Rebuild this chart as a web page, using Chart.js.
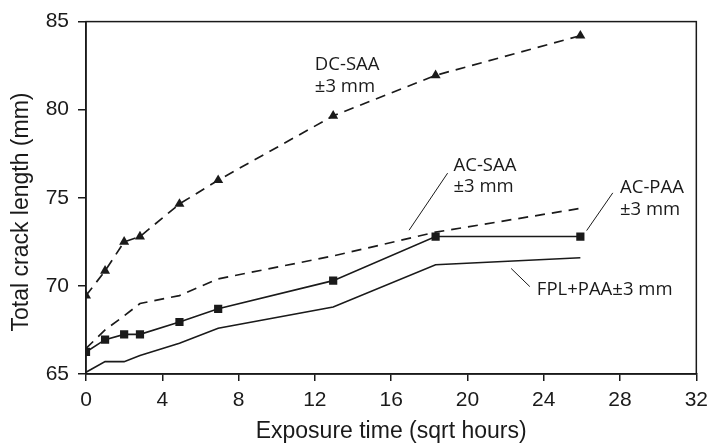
<!DOCTYPE html>
<html>
<head>
<meta charset="utf-8">
<script src="https://cdn.jsdelivr.net/npm/chart.js@4"></script>
<style>
    html, body { margin: 0; padding: 0; background: #fff; }
    #wrap { width: 715px; height: 445px; }
</style>
</head>
<body>
<div id="wrap"><canvas id="crackChart" width="715" height="445"></canvas></div>
<script>
// Exposure time (sqrt hours): 0, 1, 4, 8, 24, 48, 168, 336, 672 h
const sqrtHours = [0, 1, 2, 2.83, 4.9, 6.93, 12.96, 18.33, 25.92];
const dcSaa  = [69.45, 70.85, 72.5, 72.8, 74.65, 76.0, 79.65, 81.95, 84.2];
const acSaa  = [66.45, 67.5, 68.3, 69.0, 69.45, 70.4, 71.7, 73.05, 74.4];
const acPaa  = [66.25, 66.95, 67.25, 67.25, 67.95, 68.7, 70.3, 72.8, 72.8];
const fplPaa = [65.1, 65.7, 65.7, 66.05, 66.75, 67.6, 68.8, 71.2, 71.6];

const xTicks = [0, 4, 8, 12, 16, 20, 24, 28, 32];
const yTicks = [65, 70, 75, 80, 85];

const yTitle = 'Total crack length (mm)';

// labels with leader lines, in data units
const notes = [
    { lines: ['DC-SAA', '\u00b13 mm'], x: 12.0, y: 82.55 },
    { lines: ['AC-SAA', '\u00b13 mm'], x: 19.27, y: 76.84, lead: [18.96, 76.4, 16.94, 73.16] },
    { lines: ['AC-PAA', '\u00b13 mm'], x: 28.0, y: 75.56, lead: [27.62, 75.28, 26.25, 73.14] },
    { lines: ['FPL+PAA\u00b13 mm'], x: 23.64, y: 69.8, lead: [22.29, 70.99, 23.27, 69.96] }
];

const ink = '#1a1a1a';

function toPoints(values) {
    return sqrtHours.map((x, i) => ({ x: x, y: values[i] }));
}

const frameAndNotes = {
    id: 'frameAndNotes',
    afterDatasetsDraw(chart) {
        const { ctx, chartArea, scales } = chart;
        ctx.save();
        ctx.strokeStyle = ink;
        ctx.lineWidth = 1.5;
        ctx.strokeRect(chartArea.left, chartArea.top, chartArea.right - chartArea.left, chartArea.bottom - chartArea.top);

        // y title, sits a bit below the plot centre in the original
        ctx.fillStyle = ink;
        ctx.save();
        ctx.translate(22, 212);
        ctx.rotate(-Math.PI / 2);
        ctx.font = '23px "Liberation Sans", Arial';
        ctx.textAlign = 'center';
        ctx.textBaseline = 'middle';
        ctx.fillText(yTitle, 0, 0);
        ctx.restore();

        ctx.lineWidth = 1;
        ctx.font = '18.5px "Open Sans"';
        ctx.textAlign = 'left';
        ctx.textBaseline = 'middle';
        notes.forEach(n => {
            const px = scales.x.getPixelForValue(n.x);
            const py = scales.y.getPixelForValue(n.y);
            n.lines.forEach((t, i) => ctx.fillText(t, px, py + i * 21.5));
            if (n.lead) {
                ctx.beginPath();
                ctx.moveTo(scales.x.getPixelForValue(n.lead[0]), scales.y.getPixelForValue(n.lead[1]));
                ctx.lineTo(scales.x.getPixelForValue(n.lead[2]), scales.y.getPixelForValue(n.lead[3]));
                ctx.stroke();
            }
        });
        ctx.restore();
    }
};

const ctx = document.getElementById('crackChart').getContext('2d');

new Chart(ctx, {
    type: 'scatter',
    data: {
        datasets: [
            {
                label: 'DC-SAA',
                data: toPoints(dcSaa),
                showLine: true,
                borderColor: ink,
                backgroundColor: ink,
                borderWidth: 1.7,
                borderDash: [10, 7],
                pointStyle: 'triangle',
                pointRadius: 5.8,
                pointBorderWidth: 0
            },
            {
                label: 'AC-SAA',
                data: toPoints(acSaa),
                showLine: true,
                borderColor: ink,
                borderWidth: 1.7,
                borderDash: [10, 7],
                pointRadius: 0
            },
            {
                label: 'AC-PAA',
                data: toPoints(acPaa),
                showLine: true,
                borderColor: ink,
                backgroundColor: ink,
                borderWidth: 1.6,
                pointStyle: 'rect',
                pointRadius: 5.8,
                pointBorderWidth: 0
            },
            {
                label: 'FPL+PAA',
                data: toPoints(fplPaa),
                showLine: true,
                borderColor: ink,
                borderWidth: 1.6,
                pointRadius: 0
            }
        ]
    },
    options: {
        responsive: false,
        animation: false,
        layout: { padding: { left: 0, right: 13, top: 16, bottom: 0 } },
        plugins: {
            legend: { display: false },
            tooltip: { enabled: false }
        },
        scales: {
            x: {
                type: 'linear',
                min: 0,
                max: 32,
                afterFit: s => { s.height = 71; },
                afterBuildTicks: s => { s.ticks = xTicks.map(v => ({ value: v })); },
                grid: { drawOnChartArea: false, drawTicks: true, tickLength: 7, color: ink, lineWidth: 1.5 },
                border: { color: ink, width: 1.5 },
                ticks: { color: ink, padding: 7, maxRotation: 0, font: { family: '"Liberation Sans", Arial', size: 21 } },
                title: {
                    display: true,
                    text: 'Exposure time (sqrt hours)',
                    color: ink,
                    padding: { top: 0, bottom: 0 },
                    font: { family: '"Liberation Sans", Arial', size: 23 }
                }
            },
            y: {
                type: 'linear',
                min: 65,
                max: 85,
                afterFit: s => { s.width = 86; },
                afterBuildTicks: s => { s.ticks = yTicks.map(v => ({ value: v })); },
                grid: { drawOnChartArea: false, drawTicks: true, tickLength: 8, color: ink, lineWidth: 1.5 },
                border: { color: ink, width: 1.5 },
                ticks: { color: ink, padding: 9, font: { family: '"Liberation Sans", Arial', size: 21 } },
                title: { display: false }
            }
        }
    },
    plugins: [frameAndNotes]
});
</script>
</body>
</html>
